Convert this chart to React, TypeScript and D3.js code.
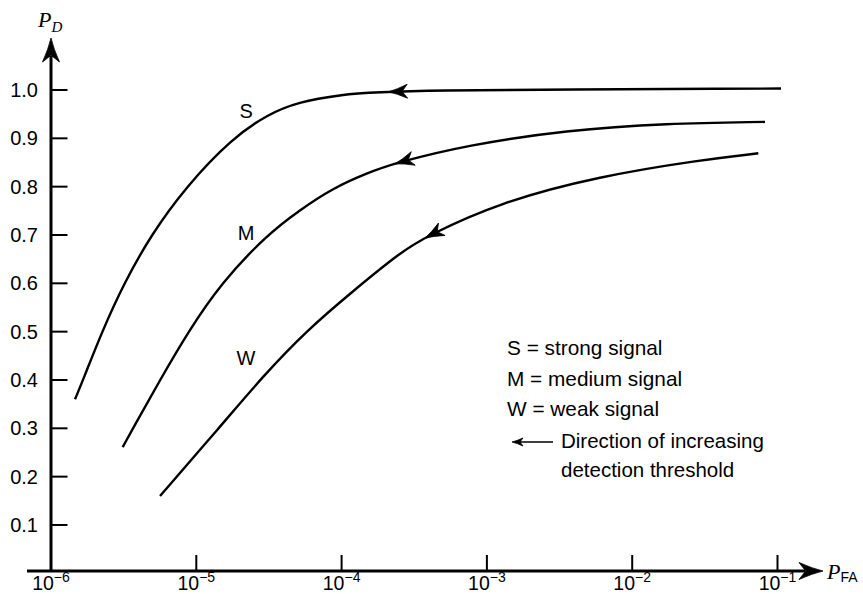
import React, { useLayoutEffect, useRef, useState } from "react";
import * as d3 from "d3";

// ROC curves: [P_FA, P_D]
const strongSignal: [number, number][] = [
  [1.463e-6, 0.36], [1.661e-6, 0.4], [2.244e-6, 0.5], [3.18e-6, 0.6],
  [4.877e-6, 0.7], [8.494e-6, 0.8], [1.76e-5, 0.9], [3.114e-5, 0.95],
  [5.01e-5, 0.975], [9.75e-5, 0.99], [2.153e-4, 1.0], [0.1057, 1.003],
];
const mediumSignal: [number, number][] = [
  [3.114e-6, 0.261], [3.667e-6, 0.3], [5.627e-6, 0.4], [8.81e-6, 0.5],
  [1.479e-5, 0.6], [3.05e-5, 0.7], [5.172e-5, 0.752], [8.725e-5, 0.797],
  [1.496e-4, 0.828], [2.331e-4, 0.849], [7.261e-4, 0.886], [3.541e-3, 0.917],
  [1.728e-2, 0.931], [8.204e-2, 0.934],
];
const weakSignal: [number, number][] = [
  [5.627e-6, 0.16], [1.456e-5, 0.303], [2.877e-5, 0.408], [5.779e-5, 0.503],
  [1.198e-4, 0.584], [2.523e-4, 0.663], [3.75e-4, 0.696], [1.231e-3, 0.768],
  [6.003e-3, 0.822], [2.928e-2, 0.855], [7.378e-2, 0.869],
];
const curveNames = ["S", "M", "W"];
// P_FA where each direction arrow's tip sits
const arrowAt = [2.1e-4, 2.33e-4, 3.75e-4];
// curve label anchors [P_FA, P_D]
const labelPos: [number, number][] = [[2.2e-5, 0.942], [2.2e-5, 0.69], [2.2e-5, 0.432]];

const yTicks = [0.1, 0.2, 0.3, 0.4, 0.5, 0.6, 0.7, 0.8, 0.9, 1.0];
const xExponents = [-6, -5, -4, -3, -2, -1];
const legendLines = ["S = strong signal", "M = medium signal", "W = weak signal"];
const noteLines = ["Direction of increasing", "detection threshold"];

const SANS = "'Liberation Sans', Arial, Helvetica, sans-serif";
const SERIF = "'Liberation Serif', 'Times New Roman', serif";

function Arrowhead({ x, y, angle, len = 18, half = 7 }: { x: number; y: number; angle: number; len?: number; half?: number }) {
  const notch = len * 0.72;
  const d = `M0,0 Q${-len * 0.45},${-half * 0.3} ${-len},${-half} L${-notch},0 L${-len},${half} Q${-len * 0.45},${half * 0.3} 0,0 Z`;
  return <path d={d} transform={`translate(${x},${y}) rotate(${angle})`} fill="#000" stroke="#000" strokeWidth={0.8} strokeLinejoin="round" />;
}

export default function App() {
  const W = 863, H = 594;
  const x = d3.scaleLog().domain([1e-6, 1e-1]).range([51, 777.5]);
  const y = d3.scaleLinear().domain([0, 1]).range([573.3, 90]);
  const axisY = 571;
  const axisX = 51;

  const line = d3.line<[number, number]>()
    .x((d) => x(d[0]))
    .y((d) => y(d[1]))
    .curve(d3.curveBasis);

  const series = [strongSignal, mediumSignal, weakSignal];
  const pathRefs = useRef<(SVGPathElement | null)[]>([]);
  const [arrows, setArrows] = useState<{ x: number; y: number; angle: number }[]>([]);

  useLayoutEffect(() => {
    const res = series.map((s, i) => {
      const el = pathRefs.current[i];
      if (!el) return { x: 0, y: 0, angle: 0 };
      const total = el.getTotalLength();
      const tx = x(arrowAt[i]);
      let lo = 0, hi = total;
      for (let k = 0; k < 40; k++) {
        const mid = (lo + hi) / 2;
        if (el.getPointAtLength(mid).x < tx) lo = mid; else hi = mid;
      }
      const p = el.getPointAtLength(lo);
      const q = el.getPointAtLength(Math.min(total, lo + 4));
      const angle = (Math.atan2(p.y - q.y, p.x - q.x) * 180) / Math.PI;
      return { x: p.x, y: p.y, angle };
    });
    setArrows(res);
  }, []);

  return (
    <svg width={W} height={H} style={{ position: "absolute", left: 0, top: 0, background: "#fff" }}>
      <rect width={W} height={H} fill="#fff" />
      {/* axes */}
      <line x1={axisX} y1={axisY} x2={axisX} y2={56} stroke="#000" strokeWidth={3} />
      <Arrowhead x={axisX} y={38} angle={-90} len={24} half={8.5} />
      <line x1={27} y1={axisY} x2={805} y2={axisY} stroke="#000" strokeWidth={3} />
      <Arrowhead x={823} y={axisY} angle={0} len={24} half={8.5} />

      {/* y ticks */}
      {yTicks.map((t) => (
        <g key={t}>
          <line x1={axisX} x2={axisX + 16.5} y1={y(t)} y2={y(t)} stroke="#000" strokeWidth={2} />
          <text x={38} y={y(t) + 7} textAnchor="end" fontFamily={SANS} fontSize={20}>{t.toFixed(1)}</text>
        </g>
      ))}

      {/* x ticks */}
      {xExponents.map((e) => {
        const xv = x(Math.pow(10, e));
        return (
          <g key={e}>
            <line x1={xv} x2={xv} y1={axisY} y2={axisY - 16} stroke="#000" strokeWidth={2} />
            <text x={xv} y={590} textAnchor="middle" fontFamily={SANS} fontSize={19.5}>
              10<tspan fontSize={14} dy={-8}>{"\u2212" + Math.abs(e)}</tspan>
            </text>
          </g>
        );
      })}

      {/* axis titles */}
      <text x={38} y={27} fontFamily={SERIF} fontStyle="italic" fontSize={22}>
        P<tspan fontSize={15} dy={5}>D</tspan>
      </text>
      <text x={827} y={579} fontFamily={SERIF} fontStyle="italic" fontSize={22}>
        P<tspan fontFamily={SANS} fontStyle="normal" fontSize={14} dy={3}>FA</tspan>
      </text>

      {/* curves */}
      {series.map((s, i) => (
        <path
          key={curveNames[i]}
          ref={(el) => { pathRefs.current[i] = el; }}
          d={line(s) || ""}
          fill="none"
          stroke="#000"
          strokeWidth={2.4}
        />
      ))}
      {arrows.map((a, i) => (
        <Arrowhead key={i} x={a.x} y={a.y} angle={a.angle} len={19} half={7} />
      ))}
      {curveNames.map((n, i) => (
        <text key={n} x={x(labelPos[i][0])} y={y(labelPos[i][1])} textAnchor="middle" fontFamily={SANS} fontSize={20}>{n}</text>
      ))}

      {/* legend */}
      {legendLines.map((t, i) => (
        <text key={t} x={507} y={355 + i * 30.5} fontFamily={SANS} fontSize={20.8}>{t}</text>
      ))}
      <line x1={520} x2={553} y1={442} y2={442} stroke="#000" strokeWidth={1.6} />
      <Arrowhead x={512} y={442} angle={180} len={11} half={4} />
      {noteLines.map((t, i) => (
        <text key={t} x={561} y={448 + i * 29} fontFamily={SANS} fontSize={20.5}>{t}</text>
      ))}
    </svg>
  );
}
